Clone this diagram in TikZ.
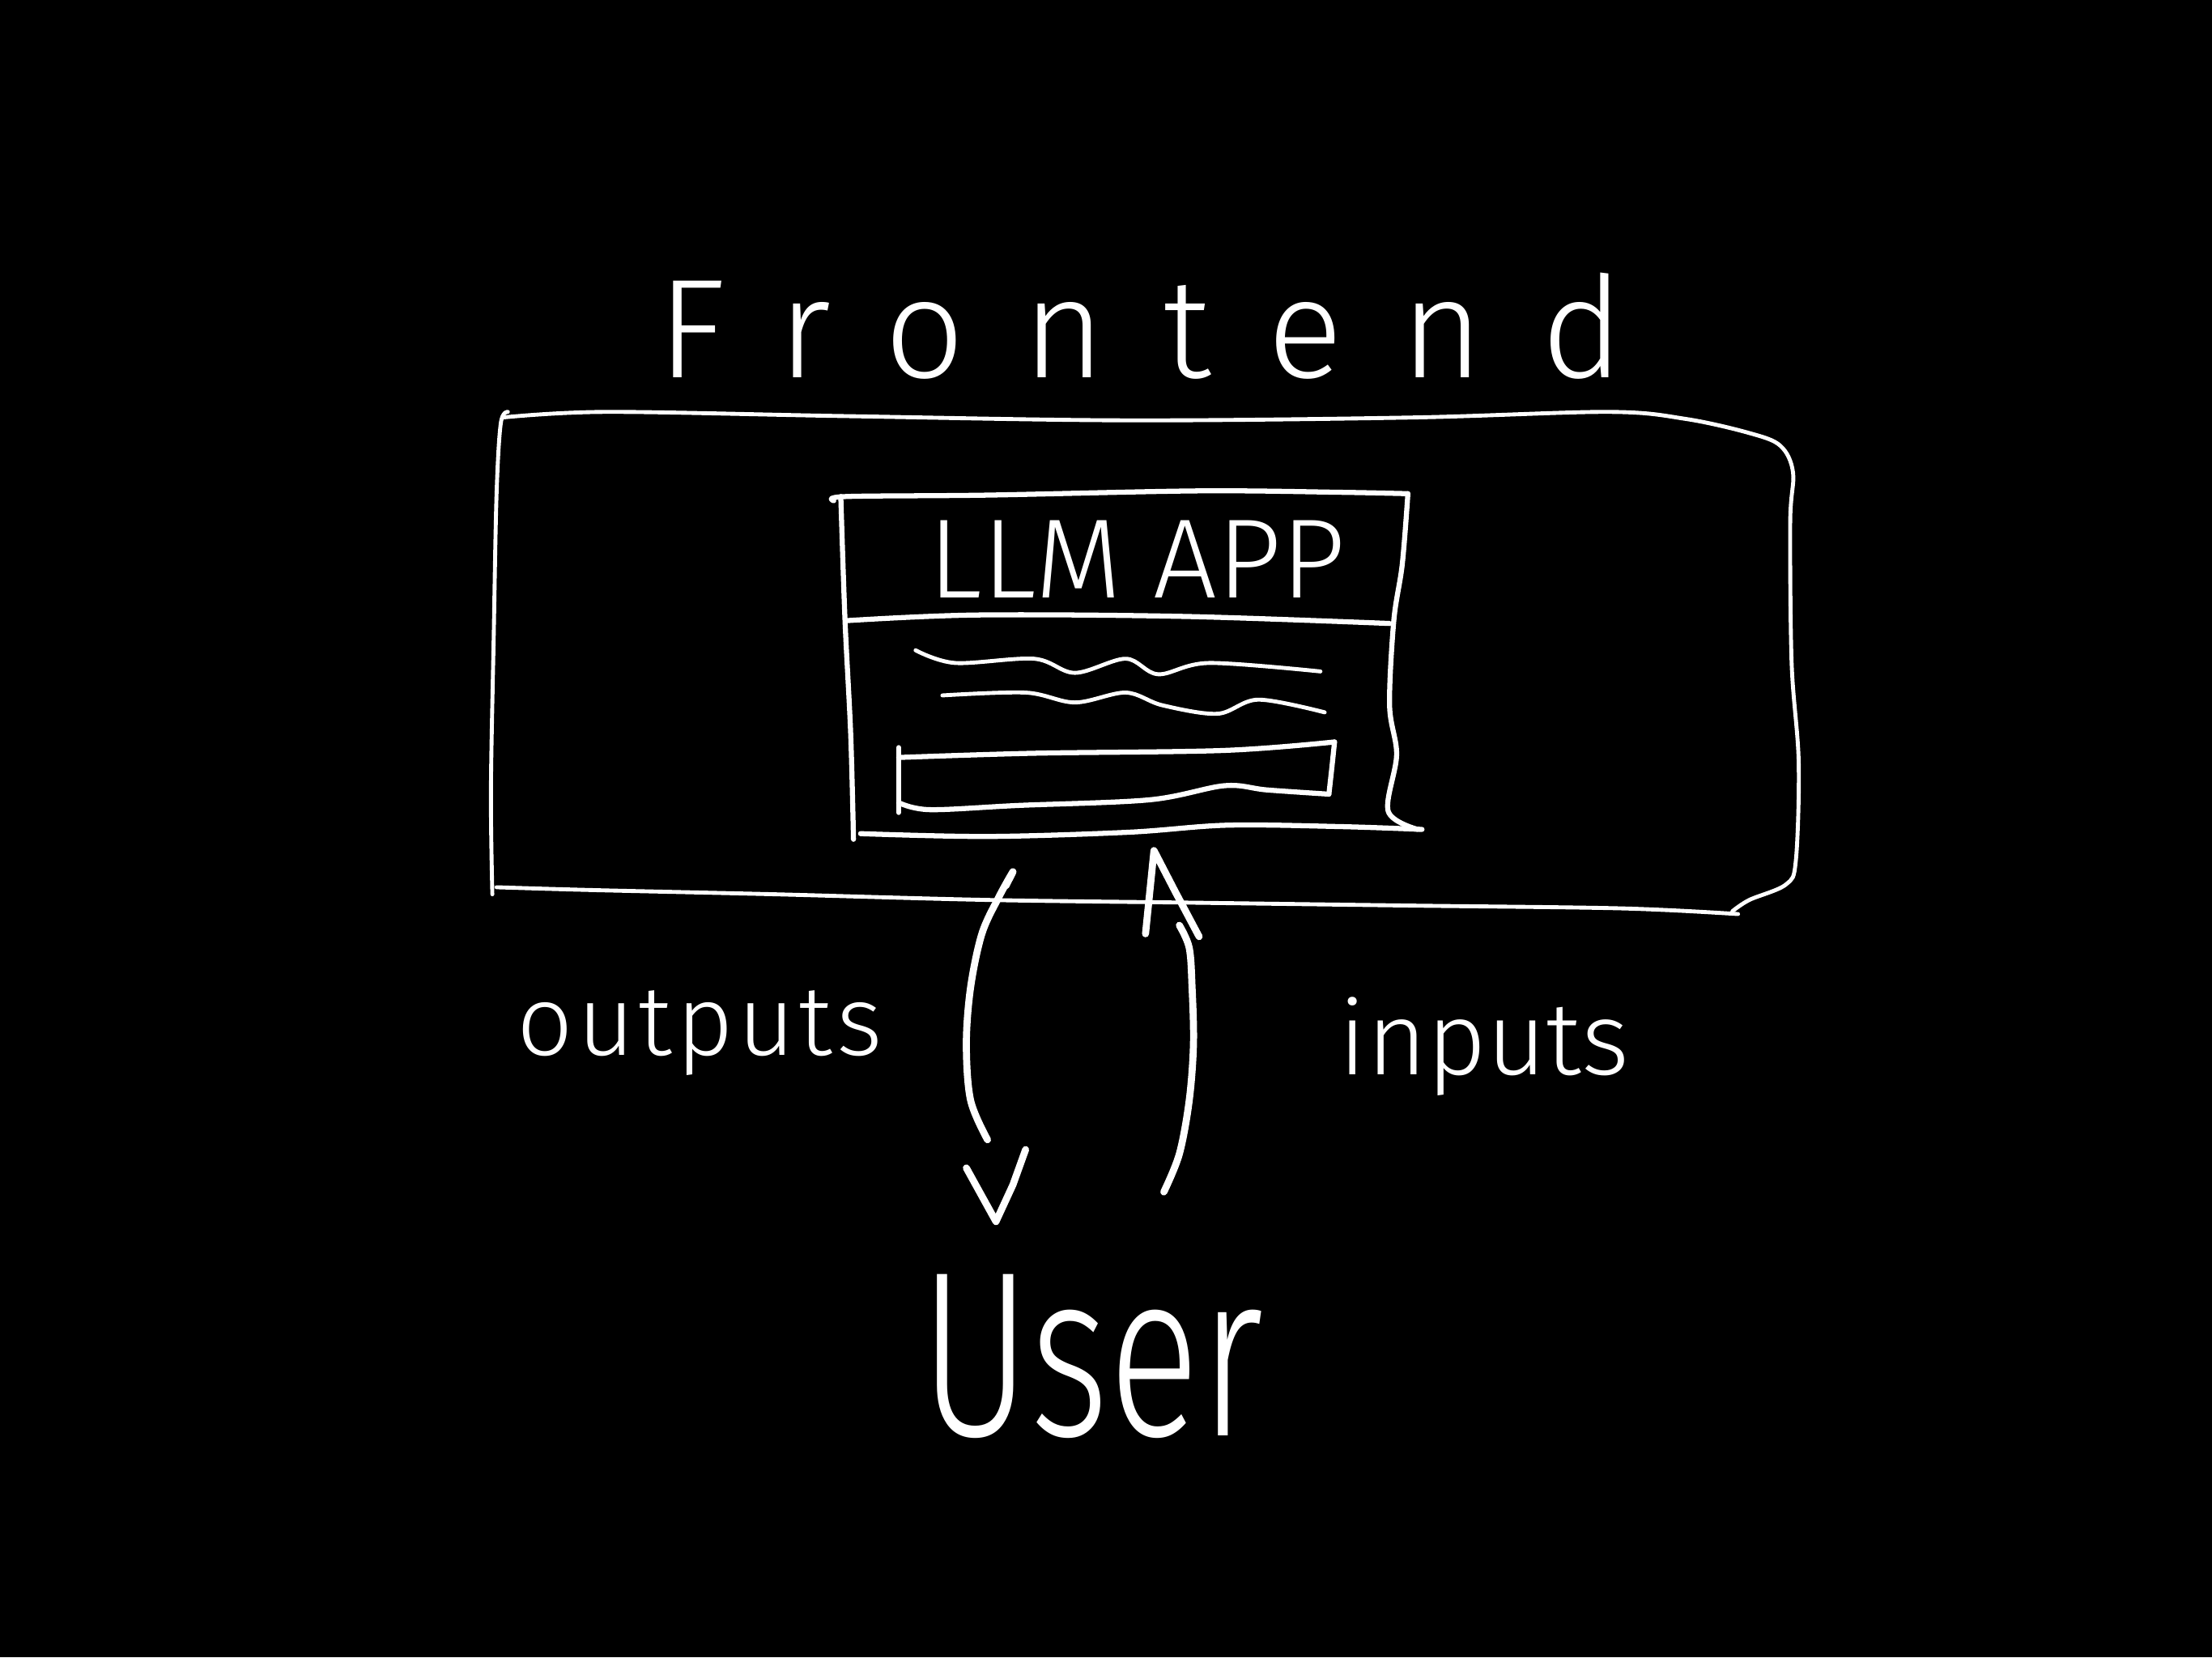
\documentclass[tikz,border=0pt]{standalone}
\usepackage{fontspec}
\setmainfont{Fira Sans}[UprightFont=* Light]
\begin{document}
\begin{tikzpicture}[x=1pt,y=-1pt,
  chalk/.style={draw=white,line cap=round,line join=round},
  thinchalk/.style={chalk,line width=2.8pt},
  midchalk/.style={chalk,line width=3.6pt},
  boldchalk/.style={chalk,line width=5pt},
  sketch/.style={smooth,tension=0.55},
  label/.style={text=white,inner sep=0pt,anchor=base}]
% board
\fill[black] (0,0) rectangle (1568,1175);
\useasboundingbox (0,0) rectangle (1568,1175);

% ---- Frontend container ----
\node[label,anchor=base west] (frontend) at (466,268)
  {\fontsize{100}{100}\selectfont\addfontfeature{LetterSpace=41}Frontend};
\draw[thinchalk] plot[sketch] coordinates {(356,296) (430,292) (600,295) (800,298) (1000,296)
  (1140,292) (1195,297) (1240,307) (1262,316) (1271,335) (1269,370) (1270,470) (1275,540)
  (1273,610) (1266,627) (1240,638) (1228,646)};
\draw[thinchalk] plot[sketch] coordinates {(1232,648) (1150,644) (1000,642) (850,640)
  (700,638) (550,634) (420,631) (352,629)};
\draw[thinchalk] plot[sketch] coordinates {(349,634) (348,560) (350,450) (352,350) (355,300) (360,292)};

% ---- LLM app window ----
\draw[midchalk] plot[sketch] coordinates {(591,355) (600,352) (700,351) (850,348) (950,349) (998,350)};
\draw[midchalk] plot[sketch] coordinates {(998,350) (994,400) (988,440) (985,500) (990,535) (984,575) (1005,588)};
\draw[midchalk] plot[sketch] coordinates {(1008,588) (950,586) (870,585) (800,590) (700,593) (610,591)};
\draw[midchalk] plot[sketch] coordinates {(605,595) (603,520) (599,440) (596,352)};
% title bar
\node[label] (llmapp) at (806,424) {\fontsize{80}{80}\selectfont LLM APP};
\draw[midchalk] plot[sketch] coordinates {(600,440) (692,436) (839,437) (985,442)};
% message lines
\draw[thinchalk] plot[sketch] coordinates {(649,461) (677,470) (733,467) (762,477) (798,467)
  (821,478) (857,470) (936,476)};
\draw[thinchalk] plot[sketch] coordinates {(668,493) (727,491) (762,498) (798,491) (824,500)
  (863,506) (892,496) (939,505)};
% input field
\draw[midchalk] plot[sketch] coordinates {(637,537) (733,534) (868,532) (946,526)};
\draw[midchalk] plot[sketch] coordinates {(946,526) (944,545) (942,563)};
\draw[midchalk] plot[sketch] coordinates {(942,563) (898,560) (868,557) (815,567) (722,571) (659,574) (637,569)};
\draw[midchalk] (637,530) -- (637,576);

% ---- flow between app and user ----
\node[label] (outputs) at (496,748) {\fontsize{70}{70}\selectfont\addfontfeature{LetterSpace=4}outputs};
\node[label] (inputs) at (1052,762) {\fontsize{73}{73}\selectfont inputs};
\node[label] (user) at (774,1018) {\scalebox{0.72}[1]{\fontsize{167}{167}\selectfont User}};

\coordinate (outStart) at (718,618);
\coordinate (outEnd) at (700,808);
\coordinate (outTip) at (706,866);
\coordinate (inStart) at (825,845);
\coordinate (inEnd) at (836,656);
\coordinate (inTip) at (818,603);

% outputs: down to the user
\draw[boldchalk] plot[sketch] coordinates {(713,628) (outStart) (708,636) (696,662) (688,700)
  (685,740) (688,780) (outEnd)};
\draw[boldchalk] (685,828) -- (outTip) -- (718,840) -- (727,815);
% inputs: up to the app
\draw[boldchalk] plot[sketch] coordinates {(inStart) (836,818) (843,780) (846,740) (845,700) (843,672) (inEnd)};
\draw[boldchalk] (812,662) -- (inTip) -- (833,632) -- (850,664);
\end{tikzpicture}
\end{document}
